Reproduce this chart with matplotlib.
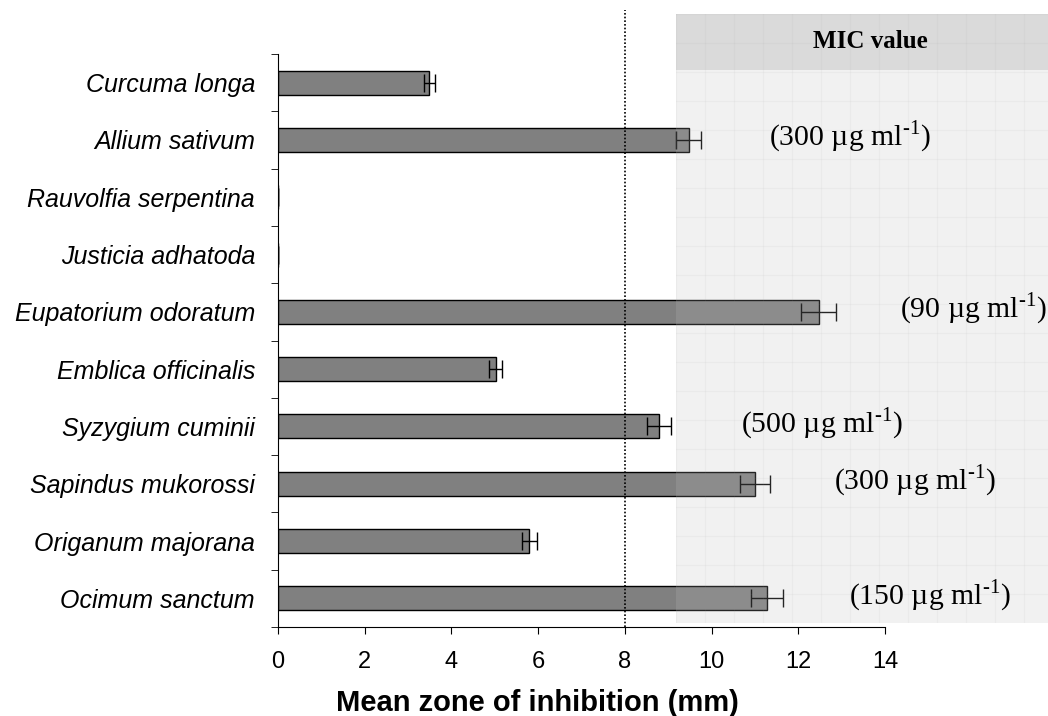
import matplotlib
matplotlib.use("Agg")
import matplotlib.pyplot as plt
from matplotlib.patches import Rectangle
import numpy as np

species = ["Curcuma longa", "Allium sativum", "Rauvolfia serpentina", "Justicia adhatoda",
           "Eupatorium odoratum", "Emblica officinalis", "Syzygium cuminii",
           "Sapindus mukorossi", "Origanum majorana", "Ocimum sanctum"]
zone = [3.49, 9.47, 0.0, 0.0, 12.47, 5.02, 8.79, 11.0, 5.8, 11.28]
err = [0.13, 0.28, 0.0, 0.0, 0.4, 0.15, 0.27, 0.35, 0.18, 0.36]
mic_species = ["Allium sativum", "Eupatorium odoratum", "Syzygium cuminii",
               "Sapindus mukorossi", "Ocimum sanctum"]
mic_values = ["300", "90", "500", "300", "150"]
mic_x = [11.32, 14.35, 10.68, 12.82, 13.17]  # label left positions (data units)
xticks = [0, 2, 4, 6, 8, 10, 12, 14]
threshold = 8

W, H = 1048, 716
fig = plt.figure(figsize=(W / 100, H / 100), dpi=100)
ax = fig.add_axes([278 / W, (H - 627) / H, (885 - 278) / W, (627 - 54) / H])
ax.set_zorder(1)

y = np.arange(len(species))
ax.barh(y, zone, height=0.42, color="#808080", edgecolor="black", linewidth=1.0, zorder=2)
ax.errorbar(zone, y, xerr=err, fmt="none", ecolor="black", elinewidth=1.0,
            capsize=6.5, capthick=1.0, zorder=3)

ax.set_xlim(0, 14)
ax.set_ylim(len(species) - 0.5, -0.5)
ax.set_xticks(xticks)
ax.set_xticklabels([str(t) for t in xticks], fontsize=17, family="Liberation Sans")
ax.set_yticks(y)
ax.set_yticklabels(species, fontsize=18, family="Liberation Sans", style="italic")
ax.set_yticks(np.arange(-0.5, len(species), 1.0), minor=True)
ax.tick_params(axis="y", which="major", length=0, pad=16.5)
ax.tick_params(axis="y", which="minor", length=5, direction="out")
ax.tick_params(axis="x", length=5, pad=12)
for s in ["top", "right"]:
    ax.spines[s].set_visible(False)

fig.text(537.5 / W, (H - 711) / H, "Mean zone of inhibition (mm)", fontsize=21,
         fontweight="bold", family="Liberation Sans", ha="center", va="baseline")

# dotted threshold line extending above axes
ax.plot([threshold, threshold], [0, 1 + 44 / 573], transform=ax.get_xaxis_transform(),
        color="black", linestyle=(0, (1, 1.2)), linewidth=1.2, clip_on=False, zorder=4)

# MIC panel overlay
pax = fig.add_axes([676 / W, (H - 623) / H, (W - 676) / W, (623 - 14) / H])
pax.set_zorder(2)
pax.set_facecolor((0.74, 0.74, 0.74, 0.2))
pw, ph = W - 676, 623 - 14
pax.set_xlim(0, pw)
pax.set_ylim(ph, 0)
for s in pax.spines.values():
    s.set_visible(False)
pax.set_xticks(np.arange(0, pw, 29))
pax.set_yticks(np.arange(0, ph, 29))
pax.tick_params(length=0, labelbottom=False, labelleft=False)
pax.grid(True, color=(0.6, 0.6, 0.6), alpha=0.07, linewidth=0.8)
pax.add_patch(Rectangle((0, 0), pw, 56, facecolor=(0.55, 0.55, 0.55), alpha=0.22,
                        edgecolor="none", zorder=0))
pax.text(pw / 2 + 8, 27, "MIC value", ha="center", va="center", fontsize=18,
         fontweight="bold", family="Liberation Serif", zorder=5)

# MIC labels on a transparent overlay axes above the panel
over = fig.add_axes(ax.get_position().bounds, sharex=ax, sharey=ax)
over.set_zorder(3)
over.patch.set_visible(False)
over.axis("off")
for sp, val, xl in zip(mic_species, mic_values, mic_x):
    yi = species.index(sp)
    over.text(xl, yi - 0.05, "(" + val + " \u00b5g ml$^{\\mathregular{\u2010}\\mathregular{1}}$)",
              ha="left", va="center", fontsize=21.4, family="Liberation Serif",
              clip_on=False)

fig.savefig("out.png", dpi=100)
